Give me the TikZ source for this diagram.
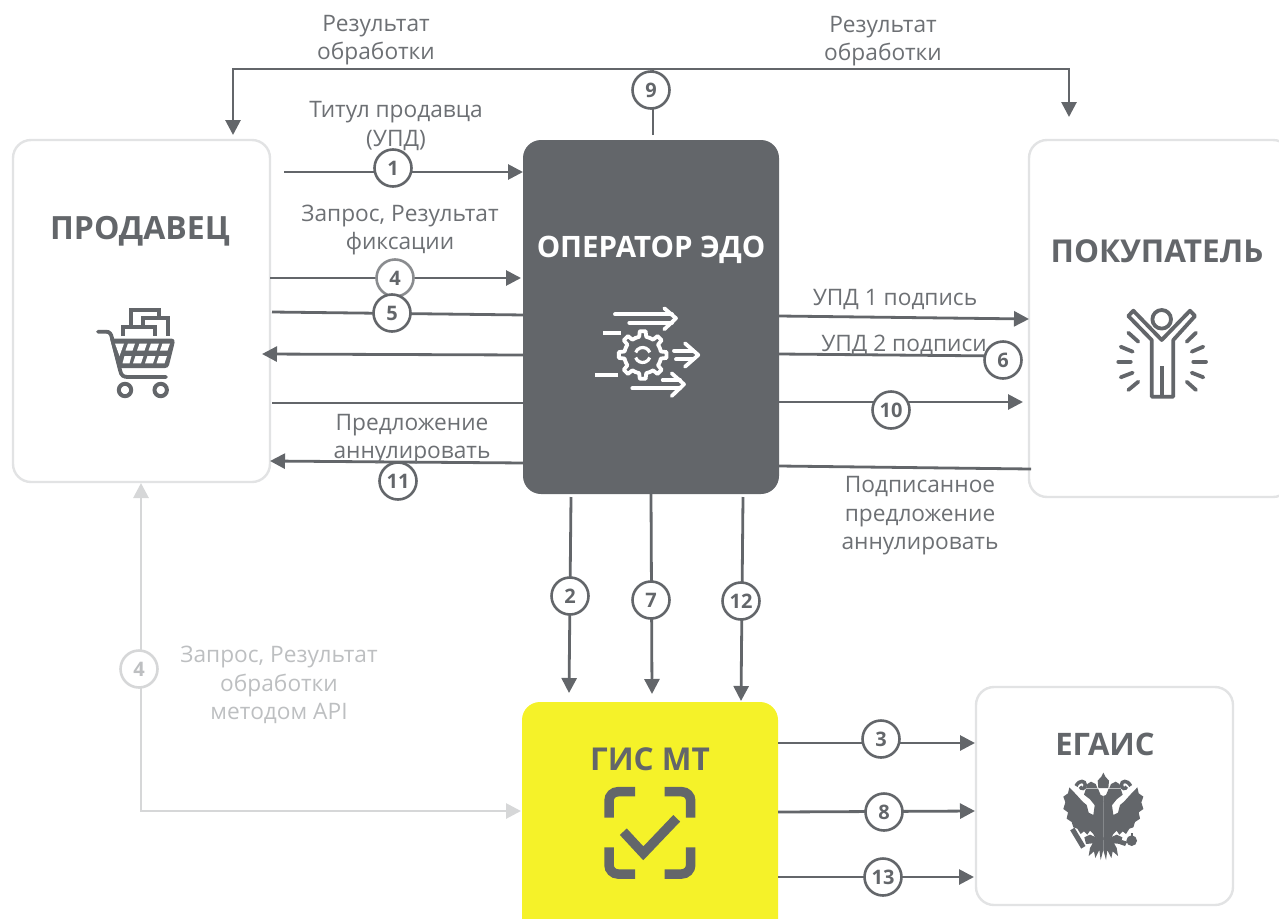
\documentclass[tikz,border=0pt]{standalone}
\usepackage{fontspec}
\setmainfont{Open Sans}
\usetikzlibrary{arrows.meta}
\definecolor{ink}{HTML}{63666A}
\definecolor{txt}{HTML}{6D7074}
\definecolor{pale}{HTML}{D6D7D8}
\definecolor{paletxt}{HTML}{BDBFC1}
\definecolor{boxline}{HTML}{E2E3E4}
\definecolor{lemon}{HTML}{F5F229}
\tikzset{
  x=1pt,y=-1pt,
  whitebox/.style={draw=boxline,line width=2.4pt,fill=white,rounded corners=18pt,anchor=north west,inner sep=0pt,outer sep=0pt},
  title/.style={text=ink,inner sep=0pt},
  lab/.style={font=\fontsize{22.7}{28.5}\selectfont,text=txt,align=center,inner sep=0pt},
  palelab/.style={lab,text=paletxt},
  conn/.style={draw=ink,line width=2.8pt},
  arr/.style={conn,-{Triangle[length=15pt,width=15pt]}},
  palearr/.style={draw=pale,line width=2.8pt,{Triangle[length=15pt,width=15pt]}-{Triangle[length=15pt,width=15pt]}},
  badge/.style={circle,draw=ink,line width=2.6pt,fill=white,minimum size=37pt,inner sep=0pt,font=\fontsize{20}{21}\selectfont\bfseries,text=ink},
  iconw/.style={draw=white,line width=3.8pt,line cap=round,line join=round},
  icong/.style={draw=ink,line width=3.8pt,line cap=round,line join=round},
}
\begin{document}
\begin{tikzpicture}
\useasboundingbox (0,0) rectangle (1279,918);
% boxes
\node[whitebox,minimum width=257pt,minimum height=342pt] (seller) at (13,140) {};
\node[whitebox,minimum width=262pt,minimum height=357pt] (buyer) at (1029,140) {};
\node[whitebox,minimum width=257pt,minimum height=218pt] (egais) at (976,687) {};
\node[fill=ink,rounded corners=18pt,anchor=north west,inner sep=0pt,outer sep=0pt,minimum width=256pt,minimum height=354pt] (edo) at (523,140) {};
\node[fill=lemon,rounded corners=18pt,anchor=north west,inner sep=0pt,outer sep=0pt,minimum width=256pt,minimum height=240pt] (gis) at (522,702) {};
% titles
\node[title,font=\fontsize{32}{34}\selectfont\bfseries] (t1) at (140,231) {ПРОДАВЕЦ};
\node[title,text=white,font=\fontsize{29.5}{32}\selectfont\bfseries] (t2) at (651,250) {ОПЕРАТОР ЭДО};
\node[title,font=\fontsize{31.5}{34}\selectfont\bfseries] (t3) at (1157,251) {ПОКУПАТЕЛЬ};
\node[title,font=\fontsize{31.5}{34}\selectfont\bfseries] (t4) at (650,759) {ГИС МТ};
\node[title,font=\fontsize{31}{34}\selectfont\bfseries] (t5) at (1105,744) {ЕГАИС};
% connector ends
\foreach \n/\x/\y in {a1/284/172,b1/523/172,a4/270/278,b4/521/278,a5/272/312,b5/525/315,
  a0/525/355,b0/262/354,aE/272/403,bE/525/403,a11/525/463,b11/270/461,
  top/653/135,mid/653/69,tl/233/69,tr/1069/69,tla/233/135,tra/1069/117,
  aU/779/316,bU/1029/319,a6/779/354,b6/1000/356,a10/779/402,b10/1023/402,aS/779/466,bS/1031/469,
  a2/571/497,b2/569/693,a7/651/494,b7/652/694,a12/743/497,b12/741/701,
  a3/778/743,b3/975/743,a8/778/812,b8/975/811,a13/778/877,b13/974/877,
  pa/141/483,pc/141/811,pb/521/811}
  {\coordinate (\n) at (\x,\y);}
% connectors
\draw[arr] (a1) -- (b1);
\draw[arr] (a4) -- (b4);
\draw[conn] (a5) -- (b5);
\draw[arr] (a0) -- (b0);
\draw[conn] (aE) -- (bE);
\draw[arr] (a11) -- (b11);
\draw[conn] (top) -- (mid);
\draw[arr] (tl) -- (tla);
\draw[arr] (tr) -- (tra);
\draw[conn,line cap=rect] (tl) -- (tr);
\draw[arr] (aU) -- (bU);
\draw[conn] (a6) -- (b6);
\draw[arr] (a10) -- (b10);
\draw[conn] (aS) -- (bS);
\draw[arr] (a2) -- (b2);
\draw[arr] (a7) -- (b7);
\draw[arr] (a12) -- (b12);
\draw[arr] (a3) -- (b3);
\draw[arr] (a8) -- (b8);
\draw[arr] (a13) -- (b13);
\draw[palearr] (pa) -- (pc) -- (pb);
% labels
\node[lab] (l1) at (376,40) {Результат\\обработки};
\node[lab] (l2) at (883,41) {Результат\\обработки};
\node[lab] (l3) at (396,126) {Титул продавца\\(УПД)};
\node[lab] (l4) at (400,230) {Запрос, Результат\\фиксации};
\node[lab] (l5) at (895,300) {УПД 1 подпись};
\node[lab] (l6) at (904,345) {УПД 2 подписи};
\node[lab] (l7) at (412,439) {Предложение\\аннулировать};
\node[lab] (l8) at (920,516) {Подписанное\\предложение\\аннулировать};
\node[palelab] (l9) at (279,685) {Запрос, Результат\\обработки\\методом API};
% badges
\node[badge] (n1) at (393,168) {1};
\node[badge,draw=ink!75] (n4) at (395,278) {4};
\node[badge] (n5) at (392,313) {5};
\node[badge] (n11) at (398,481) {11};
\node[badge] (n9) at (651,90) {9};
\node[badge] (n6) at (1003,360) {6};
\node[badge] (n10) at (891,410) {10};
\node[badge] (n2) at (570,596) {2};
\node[badge] (n7) at (651,600) {7};
\node[badge] (n12) at (741,601) {12};
\node[badge] (n3) at (881,739) {3};
\node[badge] (n8) at (884,812) {8};
\node[badge] (n13) at (883,877) {13};
\node[badge,draw=pale,text=paletxt] (n4b) at (139,669) {4};
% cart icon
\begin{scope}[line join=miter]
\draw[ink,line width=3.8pt] (130.7,326) -- (130.7,310) -- (159.3,310) -- (159.3,317);
\draw[ink,line width=3.8pt] (143.3,326) -- (143.3,318.3) -- (167.7,318.3) -- (167.7,336);
\draw[ink,line width=3.8pt] (122.7,336) -- (122.7,326.7) -- (155,326.7) -- (155,336);
\draw[ink,line width=3.8pt,line cap=round] (98,331.7) -- (106,331.7) .. controls (110,331.7) and (111,334) .. (112,338) -- (120,370) .. controls (121,376) and (124,377) .. (128,377) -- (166,377);
\fill[ink] (110,338.5) -- (171,338.5) .. controls (175,338.5) and (175,342) .. (174,345) -- (169,365) .. controls (168.5,367) and (167,368) .. (165,368) -- (118,368) -- cycle;
\fill[white] (128,343.5) -- (135,343.5) -- (132.5,350.5) -- (125.5,350.5) -- cycle;
\fill[white] (139.5,343.5) -- (147,343.5) -- (144.5,350.5) -- (137,350.5) -- cycle;
\fill[white] (151,343.5) -- (159,343.5) -- (156.5,350.5) -- (148.5,350.5) -- cycle;
\fill[white] (162.5,343.5) -- (170,343.5) -- (167.5,350.5) -- (160,350.5) -- cycle;
\fill[white] (124.5,356) -- (131.5,356) -- (129.5,363.3) -- (122.5,363.3) -- cycle;
\fill[white] (135.5,356) -- (143.5,356) -- (141,363.3) -- (133,363.3) -- cycle;
\fill[white] (147.5,356) -- (155.5,356) -- (153,363.3) -- (145,363.3) -- cycle;
\fill[white] (159,356) -- (167,356) -- (164.5,363.3) -- (156.5,363.3) -- cycle;
\fill[white] (115,343.5) -- (124,343.5) -- (119.5,356) -- cycle;
\draw[ink,line width=4pt] (125,390) circle (6.2);
\draw[ink,line width=4pt] (160.7,390) circle (6.2);
\end{scope}
% operator icon
\begin{scope}
\draw[iconw] (615,314.3) -- (672,314.3);
\draw[iconw] (629.3,322.7) -- (672,322.7);
\draw[iconw] (664.3,308.3) -- (676,318.3) -- (664.3,329.3);
\draw[iconw,line cap=butt] (603.3,332.7) -- (620.7,332.7);
\draw[iconw,line cap=butt] (595,375) -- (618.3,375);
\draw[iconw] (662.7,380) -- (680,380);
\draw[iconw] (632.3,388.3) -- (680,388.3);
\draw[iconw] (671.7,373.3) -- (684,384.3) -- (671.7,396);
\draw[iconw] (674,350.7) -- (693,350.7);
\draw[iconw] (676,359.3) -- (693,359.3);
\draw[iconw] (685,343.3) -- (698.3,355) -- (685,366.7);
\begin{scope}[shift={(642.7,355)}]
\foreach \a in {0,45,...,315}{
  \draw[iconw,x=1pt,y=1pt] (\a-22.5:18.5) -- (\a-11:18.5) -- (\a-7:24) -- (\a+7:24) -- (\a+11:18.5) -- (\a+22.5:18.5);
}
\draw[white,line width=3.2pt,x=1pt,y=1pt] (20:7.5) arc (20:160:7.5);
\draw[white,line width=3.2pt,x=1pt,y=1pt] (200:7.5) arc (200:340:7.5);
\end{scope}
\end{scope}
% buyer icon
\begin{scope}
\draw[icong] (1161.7,319.3) circle (9.3);
\draw[icong] (1151.7,340) -- (1151.7,396.7) -- (1173.3,396.7) -- (1173.3,340) -- (1195,316) -- (1190,310.7) -- (1161.7,340) -- (1133.3,310.7) -- (1128.3,316) -- cycle;
\draw[icong,line cap=butt] (1161.7,366) -- (1161.7,396.7);
\foreach \xa/\ya/\xb/\yb in {1128.3/332.7/1138.3/341.7,1120.7/346.7/1132.7/351.7,1118.3/361.7/1130.7/361.7,1120.7/377.3/1132.7/372.7,1128.3/390/1138.3/381.7,1196/332.7/1186.7/341.7,1203.3/346.7/1191.7/351.7,1206/361.7/1193.3/361.7,1203.3/377.3/1191.7/372.7,1196/390/1186.7/381.7}
  {\draw[icong] (\xa,\ya) -- (\xb,\yb);}
\end{scope}
% scan icon
\begin{scope}[rounded corners=9pt]
\draw[ink,line width=9.5pt] (635,791.7) -- (609,791.7) -- (609,817.7);
\draw[ink,line width=9.5pt] (664.7,791.7) -- (690.7,791.7) -- (690.7,817.7);
\draw[ink,line width=9.5pt] (609,847.3) -- (609,874) -- (635,874);
\draw[ink,line width=9.5pt] (690.7,847.3) -- (690.7,874) -- (664.7,874);
\end{scope}
\draw[ink,line width=9.5pt] (623.3,831.7) -- (643.3,853.3) -- (676.7,818.3);
% eagle emblem
\begin{scope}[shift={(1040,760)},x=0.3333pt,y=-0.3333pt]
\def\halfeagle{
\fill[ink] (88,82) -- (110,105) -- (128,125) -- (140,135) -- (146,158) -- (160,165) -- (165,130) -- (190,125) -- (190,240) -- (165,232) -- (160,222) -- (150,212) -- (142,224) -- (132,214) -- (122,222) -- (112,206) -- (100,202) -- (95,186) -- (80,176) -- (84,157) -- (70,147) -- (76,127) -- (70,110) -- (84,100) -- cycle;
\fill[ink] (190,125) -- (168,140) -- (158,128) -- (150,118) -- (132,104) -- (138,86) -- (174,86) -- (182,105) -- (190,108) -- cycle;
\fill[ink] (138,84) -- (142,72) -- (153,65) -- (167,72) -- (172,84) -- cycle;
\draw[ink,line width=3.5pt] (108,78) .. controls (118,58) and (136,62) .. (136,75) .. controls (134,88) and (124,88) .. (120,80);
\fill[ink] (190,232) -- (168,232) -- (150,224) -- (133,232) -- (138,252) -- (158,250) -- (150,264) -- (146,288) -- (162,274) -- (166,294) -- (178,270) -- (182,300) -- (190,270) -- cycle;
}
\halfeagle
\begin{scope}[xshift=126.67pt,xscale=-1]\halfeagle\end{scope}
\fill[ink] (190,38) -- (196,50) -- (207,62) -- (205,84) -- (175,84) -- (173,62) -- (184,50) -- cycle;
\draw[ink,line width=5pt] (97,207) -- (130,262);
\fill[ink] (275,242) circle (16);
\fill[ink] (272,218) rectangle (278,230);
\fill[ink] (245,240) -- (262,245) -- (255,258) -- (238,252) -- cycle;
\end{scope}
\end{tikzpicture}
\end{document}
